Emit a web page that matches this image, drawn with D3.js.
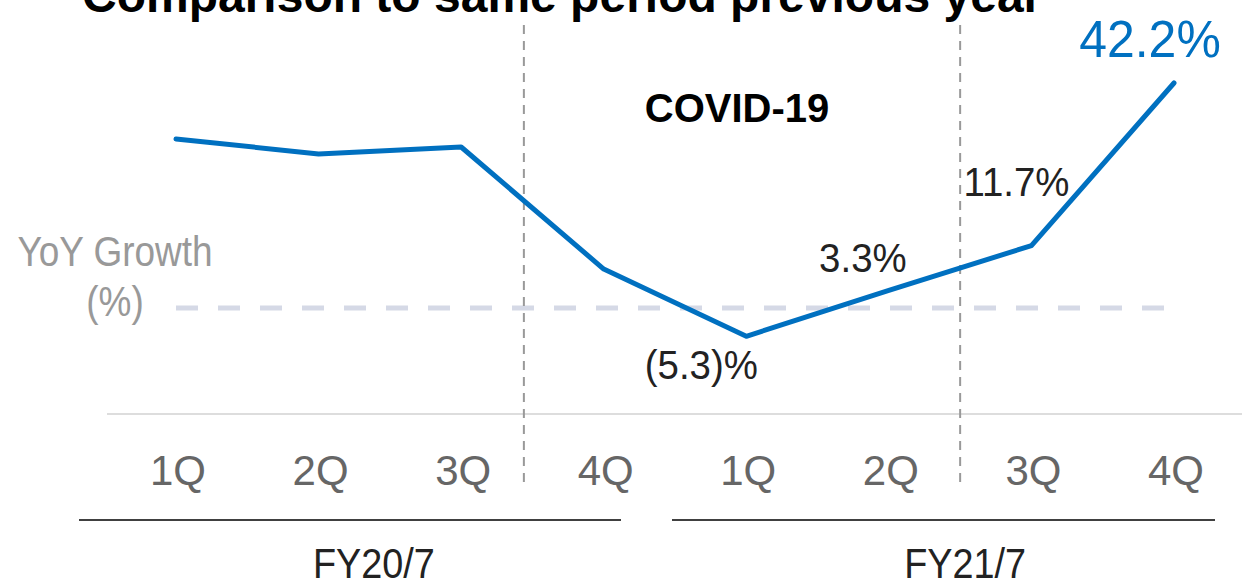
<!DOCTYPE html>
<html>
<head>
<meta charset="UTF-8">
<title>YoY Growth</title>
<style>
body { margin:0; background:#fff; }
svg { display:block; font-family:"Liberation Sans Narrow","Arial Narrow","Liberation Sans",sans-serif; }
.tick-label { fill:#666; font-size:42px; }
.val { fill:#222; font-size:40px; }
</style>
</head>
<body>
<svg width="1242" height="582"></svg>
<script src="https://cdn.jsdelivr.net/npm/d3@7"></script>
<script>
// data
const quarters = ['1Q','2Q','3Q','4Q','1Q','2Q','3Q','4Q'];
const growth = [31.7, 28.9, 30.2, 7.3, -5.3, 3.3, 11.7, 42.2];
const years = ['FY20/7','FY21/7'];
const labels = [null, null, null, null, '(5.3)%', '3.3%', '11.7%', '42.2%'];
const dividers = [2.44, 5.5]; // fractional quarter index

const svg = d3.select('svg');
const idx = d3.range(quarters.length);
const x = d3.scalePoint().domain(idx).range([176, 1174]);
const xf = v => x(0) + v * x.step();
const y = d3.scaleLinear().domain([0, 42.2]).range([308, 83]);

// text squeezed horizontally (narrow face not available)
function narrowText(px, py, str, sx) {
  return svg.append('text').attr('text-anchor', 'middle')
    .attr('transform', `translate(${px},${py}) scale(${sx},1)`).text(str);
}

// title (cut off at top)
svg.append('text').attr('x', 82).attr('y', 12)
  .attr('font-size', 48).attr('font-weight', 'bold').attr('fill', '#000')
  .text('Comparison to same period previous year');

// baseline of the axis
svg.append('line').attr('x1', 107).attr('x2', 1242).attr('y1', 414).attr('y2', 414)
  .attr('stroke', '#ddd').attr('stroke-width', 2);

// zero line
svg.append('line').attr('x1', x(0)).attr('x2', 1165).attr('y1', y(0)).attr('y2', y(0))
  .attr('stroke', '#d5d9e6').attr('stroke-width', 5).attr('stroke-dasharray', '22,20');

// dividers between periods
dividers.forEach(v => {
  svg.append('line').attr('x1', xf(v)).attr('x2', xf(v)).attr('y1', 25).attr('y2', 486)
    .attr('stroke', '#999').attr('stroke-width', 2).attr('stroke-dasharray', '9,7');
});

// line
svg.append('path').datum(growth)
  .attr('d', d3.line().x((d, i) => x(i)).y(d => y(d)))
  .attr('fill', 'none').attr('stroke', '#0070c0').attr('stroke-width', 5)
  .attr('stroke-linejoin', 'round').attr('stroke-linecap', 'round');

// x axis labels
svg.selectAll('.tick-label').data(quarters).enter().append('text')
  .attr('class', 'tick-label').attr('text-anchor', 'middle')
  .attr('x', (d, i) => x(i) + 2).attr('y', 485).text(d => d);

// fiscal year groups
const grp = [[79, 621], [672, 1215]];
grp.forEach(g => {
  svg.append('line').attr('x1', g[0]).attr('x2', g[1]).attr('y1', 520).attr('y2', 520)
    .attr('stroke', '#000').attr('stroke-width', 1.5);
});
const grpOff = [-16, 5];
years.forEach((d, i) => {
  narrowText((x(i * 4) + x(i * 4 + 3)) / 2 + grpOff[i], 578, d, 0.9)
    .attr('fill', '#222').attr('font-size', 42);
});

// y label
narrowText(115, 266, 'YoY Growth', 0.88).attr('fill', '#999').attr('font-size', 42);
narrowText(115, 316, '(%)', 0.88).attr('fill', '#999').attr('font-size', 42);

// covid
svg.append('text').attr('x', 737).attr('y', 122).attr('text-anchor', 'middle')
  .attr('font-size', 40).attr('font-weight', 'bold').attr('fill', '#000').text('COVID-19');

// value labels
const offs = {4: [-45, 43], 5: [-26, -18], 6: [-15, -50], 7: [-24, -26]};
idx.forEach(i => {
  if (!labels[i]) return;
  const o = offs[i];
  const t = narrowText(x(i) + o[0], y(growth[i]) + o[1], labels[i], 0.96);
  if (i === 7) t.attr('fill', '#0070c0').attr('font-size', 52);
  else t.attr('class', 'val');
});
</script>
</body>
</html>
